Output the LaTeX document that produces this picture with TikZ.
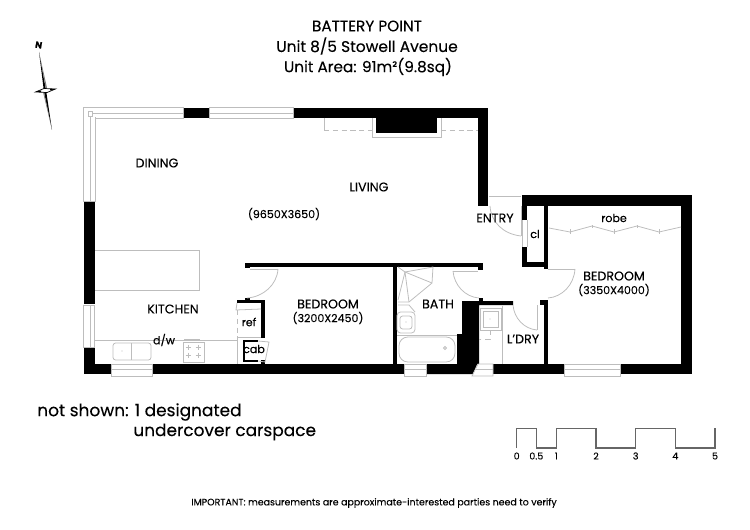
\documentclass[tikz,border=0pt]{standalone}
\usepackage{fontspec}
\setmainfont[FakeBold=0.12]{Poppins}
\usepackage{xcolor}
\usetikzlibrary{positioning, calc}
\definecolor{fixture}{gray}{0.74}
\definecolor{scaleline}{gray}{0.4}
\tikzset{
    wall/.style={fill=black, draw=none},
    window/.style={draw=fixture, fill=white, line width=0.45pt},
    fixline/.style={draw=fixture, line width=0.45pt},
    dashline/.style={draw=fixture, line width=0.45pt, densely dashed},
    roomtext/.style={font=\fontsize{7.2}{8}\selectfont, align=center, inner sep=0pt},
    sizetext/.style={font=\fontsize{6.3}{8}\selectfont, align=center, inner sep=0pt},
    smalltext/.style={font=\fontsize{5.4}{6}\selectfont, inner sep=0pt},
    titletext/.style={font=\fontsize{8.7}{11.5}\selectfont, inner sep=0pt},
    notetext/.style={font=\fontsize{9.65}{11.5}\selectfont, inner sep=0pt, anchor=west}
}

\begin{document}
\begin{tikzpicture}[x=0.02cm, y=-0.02cm]
    \useasboundingbox (0,0) rectangle (750,530);

    \node[titletext] (title1) at (367,26) {BATTERY POINT};
    \node[titletext, font=\fontsize{8.8}{11.5}\selectfont] (title2) at (367,46) {Unit 8/5 Stowell Avenue};
    \node[titletext] (title3) at (368,67) {Unit Area: 91m²(9.8sq)};

    \draw[wall] (183,108) rectangle (209,118);
    \draw[wall] (293,108) rectangle (488,118);
    \draw[wall] (478,118) rectangle (488,206);
    \draw[wall] (376,118) rectangle (437,133);
    \draw[wall] (84,201) rectangle (95,304);
    \draw[wall] (84,347) rectangle (95,364);
    \draw[wall] (84,364) rectangle (111,374);
    \draw[wall] (152,364) rectangle (404,374);
    \draw[wall] (426,364) -- (472,364) -- (478,362) -- (473,374) -- (426,374) -- cycle;
    \draw[wall] (493,364) rectangle (564,374);
    \draw[wall] (620,364) rectangle (692,374);
    \draw[wall] (681,206) rectangle (692,364);
    \draw[wall] (522,195) rectangle (692,206);
    \draw[wall] (522,206) rectangle (527,220);
    \draw[wall] (522,247) rectangle (527,267);
    \draw[wall] (527,262) rectangle (548,267);
    \draw[wall] (544,206) rectangle (548,269);
    \draw[wall] (540,300) rectangle (548,305);
    \draw[wall] (544,305) rectangle (548,364);
    \draw[wall] (245,263) rectangle (483,267);
    \draw[wall] (245,267) rectangle (250,268);
    \draw[wall] (478,267) rectangle (483,270);
    \draw[wall] (393,267) rectangle (397,364);
    \draw[wall] (462,301) -- (513,301) -- (513,305) -- (479,305) -- (479,364) -- (457,364) -- (457,334) -- (462,334) -- cycle;
    \draw[wall] (479,298) rectangle (483,301);
    \draw[wall] (237,300) rectangle (265,303);
    \draw[wall] (245,298) rectangle (250,300);
    \draw[wall] (261,303) rectangle (265,338);
    \draw[wall] (261,360) rectangle (265,364);
    \draw[wall] (243,340) rectangle (245,362);
    \draw[wall] (243,340) rectangle (258,342);
    \draw[wall] (243,360) rectangle (258,362);

    \draw[window] (83,107) rectangle (183,118);
    \draw[window] (209,107) rectangle (293,118);
    \draw[window] (83,107) rectangle (95,201);
    \draw[draw=white, line width=1.2pt] (95,108.5) -- (95,117.5);
    \draw[draw=white, line width=1.2pt] (84,118) -- (94,118);
    \draw[fixline] (90,113) -- (183,113);
    \draw[fixline] (90,113) -- (90,201);
    \draw[fixline] (95,118) -- (183,118);
    \draw[fixline] (95,118) -- (95,201);
    \draw[fixline] (209,113) -- (293,113);
    \draw[fixline, fill=white] (88,111) rectangle (92.5,116);
    \draw[window] (83,305) rectangle (94,347);
    \draw[fixline] (90,305) -- (90,347);
    \draw[window] (111,364) rectangle (152,376);
    \draw[fixline] (111,369) -- (152,369);
    \draw[window] (404,364) rectangle (426,376);
    \draw[fixline] (404,369) -- (426,369);
    \draw[window] (473,374) -- (478,364) -- (493,364) -- (493,376) -- (472,376) -- cycle;
    \draw[fixline] (476,369) -- (493,369);
    \draw[window] (564,364) rectangle (620,376);
    \draw[fixline] (564,369) -- (620,369);

    \draw[fixline] (372,118) -- (372,137.5) -- (441,137.5) -- (441,118);
    \draw[fixline] (324,118) -- (324,130);
    \draw[dashline] (324,130) -- (372,130);
    \draw[dashline] (441,130) -- (478,130);

    \draw[fixline] (489,196) -- (521,196);
    \draw[fixline] (521,206) -- (521,236);
    \draw[fixline] (521,236) .. controls (503,234) and (491,222) .. (490,206);
    \draw[fixline] (522,220) -- (522,247);
    \draw[fixline] (527,220) -- (527,247);
    \draw[fixline] (548,269) -- (575,269);
    \draw[fixline] (575,269) .. controls (574,285) and (562,297) .. (548,298);
    \draw[fixline] (537,305) -- (537,330);
    \draw[fixline] (537,330) .. controls (524,329) and (514,318) .. (513,305);
    \draw[fixline] (453,271) -- (478,271);
    \draw[fixline] (453,271) .. controls (454,285) and (465,297) .. (479,298);
    \draw[fixline] (250,269) -- (278,269);
    \draw[fixline] (278,269) .. controls (277,285) and (263,297) .. (247,298);

    \draw[fixline] (549,228) -- (570,232) -- (592,226) -- (614,232) -- (637,226) -- (659,232) -- (681,227);
    \draw[fixline] (570,229) -- (570,234);
    \draw[fixline] (592,225) -- (592,228);
    \draw[fixline] (614,229) -- (614,234);
    \draw[fixline] (637,225) -- (637,228);
    \draw[fixline] (659,229) -- (659,234);

    \draw[fixline] (95,250) -- (199,250) -- (199,290) -- (95,290);
    \draw[fixline] (95,340) -- (237,340);
    \draw[fixline] (237,340) -- (237,364);
    \draw[dashline] (237,310) -- (237,340);
    \draw[fixline, rounded corners=1.5pt] (113,343) rectangle (151,360);
    \draw[fixline] (131,343) -- (131,360);
    \fill[fixture] (122,351) circle (0.7);
    \draw[fixline] (183,342) rectangle (204,362);
    \draw[fixline, line width=1pt] (184,339.5) -- (200,339.5);
    \foreach \px in {188,198} {
        \foreach \py in {347,355} {
            \draw[fixline] (\px-2.5,\py) -- (\px+2.5,\py);
            \draw[fixline] (\px,\py-2.5) -- (\px,\py+2.5);
        }
    }
    \draw[fixline] (237,303) -- (236,310) -- (261,309);
    \draw[fixline] (237,337) -- (261,337);
    \draw[fixline] (258,341) -- (269,342) -- (265,362) -- (258,361);

    \draw[fixline] (405,272) -- (433,267) -- (432,283) -- (409,302) -- (398,302);
    \draw[fixline] (405,272) -- (398,300);
    \draw[fixline] (405,272) -- (409,302);
    \draw[fixline] (405,272) -- (432,283);
    \draw[fixline] (398,267) -- (405,272);
    \draw[fixline] (398,305) -- (409,305) -- (415,312);
    \draw[fixline, rounded corners=2pt] (397,312) rectangle (415,333);
    \draw[fixline, rounded corners=1.5pt] (400,316) rectangle (412,329);
    \fill[fixture] (406,322) circle (0.7);
    \draw[fixline] (397,335) -- (457,335);
    \draw[fixline, rounded corners=5pt] (399,337) rectangle (455,362);
    \draw[fixline] (445,348) circle (1.5);
    \draw[fixline] (480,308) rectangle (501,330);
    \draw[fixline] (483,311) rectangle (498,327);
    \fill[fixture] (490,319) circle (0.7);
    \draw[dashline] (490,330) -- (490,339) -- (479,339);
    \draw[fixline] (502,306) -- (502,364);

    \node[roomtext] (dining) at (157,163) {DINING};
    \node[roomtext] (living) at (369,187) {LIVING};
    \node[sizetext] (livingsize) at (284,214) {(9650X3650)};
    \node[roomtext] (entry) at (495,218) {ENTRY};
    \node[sizetext] (closet) at (535,234) {cl};
    \node[sizetext] (robe) at (614,218) {robe};
    \node[roomtext] (bedrooma) at (614,276) {BEDROOM};
    \node[sizetext] (bedroomasize) at (614,290) {(3350X4000)};
    \node[roomtext] (bedroomb) at (328,304) {BEDROOM};
    \node[sizetext] (bedroombsize) at (328,318) {(3200X2450)};
    \node[roomtext] (kitchen) at (173,309) {KITCHEN};
    \node[sizetext] (dishw) at (164,340) {d/w};
    \node[sizetext] (fridge) at (249,322) {ref};
    \node[sizetext] (cabinet) at (254,349) {cab};
    \node[roomtext] (bath) at (438,304) {BATH};
    \node[roomtext] (laundry) at (523,339) {L'DRY};

    \node[notetext] (note1) at (37,412) {not shown: 1 designated};
    \node[notetext] (note2) at (133,432) {undercover carspace};
    \node[sizetext, font=\fontsize{5.37}{7}\selectfont] (notice) at (374,503) {IMPORTANT: measurements are approximate-interested parties need to verify};

    \draw[scaleline, line width=0.7pt] (516.7,448) -- (516.7,428.3) -- (536.3,428.3) -- (536.3,448) -- (556.3,448) -- (556.3,428.3) -- (596,428.3) -- (596,448) -- (635.7,448) -- (635.7,428.3) -- (675.3,428.3) -- (675.3,448) -- (715,448) -- (715,428.3);
    \node[smalltext] (tick0) at (516.7,456) {0};
    \node[smalltext] (tickh) at (536.3,456) {0.5};
    \node[smalltext] (tick1) at (556.3,456) {1};
    \node[smalltext] (tick2) at (596,456) {2};
    \node[smalltext] (tick3) at (635.7,456) {3};
    \node[smalltext] (tick4) at (675.3,456) {4};
    \node[smalltext] (tick5) at (715,456) {5};

    \node[font=\fontsize{5.2}{6}\rmfamily\bfseries\selectfont, inner sep=0pt, rotate=-10] (north) at (38.7,45) {N};
    \fill[black] (39,52) -- (46,90) -- (44,92) -- cycle;
    \fill[gray] (39,52) -- (46,90) -- (47.5,90) -- cycle;
    \fill[black] (52,130) -- (44,92) -- (46,90) -- cycle;
    \fill[gray] (52,130) -- (44,92) -- (43,92) -- cycle;
    \draw[black, line width=0.4pt, fill=white] (35.5,92) -- (44,88.5) -- (55.5,89) -- (47,92.5) -- cycle;
    \fill[black] (35.5,92) -- (41,90.5) -- (41,92) -- cycle;
    \fill[black] (55.5,89) -- (50,89) -- (50,90.5) -- cycle;
\end{tikzpicture}
\end{document}
